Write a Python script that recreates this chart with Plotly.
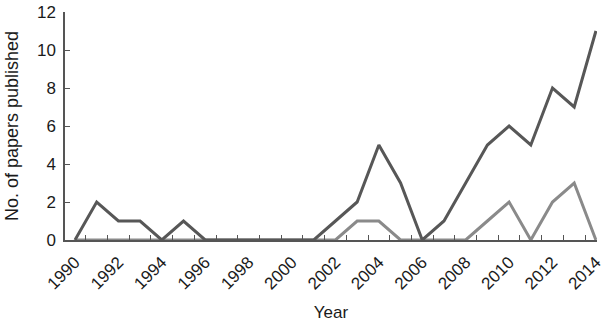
import plotly.graph_objects as go

years = list(range(1990, 2015))
series_dark = [0, 2, 1, 1, 0, 1, 0, 0, 0, 0, 0, 0, 1, 2, 5, 3, 0, 1, 3, 5, 6, 5, 8, 7, 11]
series_light = [0, 0, 0, 0, 0, 0, 0, 0, 0, 0, 0, 0, 0, 1, 1, 0, 0, 0, 0, 1, 2, 0, 2, 3, 0]
x_tick_labels = [str(y) for y in range(1990, 2015, 2)]
y_ticks = [0, 2, 4, 6, 8, 10, 12]

fig = go.Figure()
fig.add_trace(go.Scatter(x=years, y=series_light, mode="lines",
                         line=dict(color="#8a8a8a", width=3), showlegend=False))
fig.add_trace(go.Scatter(x=years, y=series_dark, mode="lines",
                         line=dict(color="#575757", width=3), showlegend=False))

family = "Liberation Sans, Arial, Helvetica, sans-serif"
tick_font = dict(family=family, size=17, color="#1a1a1a")

fig.update_layout(
    width=608, height=322,
    margin=dict(l=65, r=11, t=12, b=82),
    paper_bgcolor="white", plot_bgcolor="white",
    font=tick_font,
    xaxis=dict(
        range=[1989.54, 2014.05],
        tickmode="array",
        tickvals=[int(t) for t in x_tick_labels],
        ticktext=x_tick_labels,
        tickangle=-45,
        tickfont=tick_font,
        ticklabelstandoff=4,
        ticks="",
        showgrid=False, zeroline=False,
        showline=True, linecolor="#555555", linewidth=1.5,
        minor=dict(tickmode="array", tickvals=[y + 0.5 for y in years[:-1]],
                   ticks="inside", ticklen=5, tickcolor="#555555", tickwidth=1.2,
                   showgrid=False),
        title=dict(text="Year", font=dict(family=family, size=17, color="#1a1a1a"), standoff=14),
        automargin=False,
    ),
    yaxis=dict(
        range=[0, 12],
        tickmode="array",
        tickvals=y_ticks,
        tickfont=tick_font,
        ticklabelstandoff=4,
        ticks="inside", ticklen=5, tickcolor="#555555", tickwidth=1.2,
        showgrid=False, zeroline=False,
        showline=True, linecolor="#555555", linewidth=1.5,
        title=dict(text="No. of papers published", font=dict(family=family, size=18, color="#1a1a1a"), standoff=14),
        automargin=False,
    ),
)

fig.write_html("out.html", config={"displayModeBar": False},
               post_script="document.body.style.margin='0';")
